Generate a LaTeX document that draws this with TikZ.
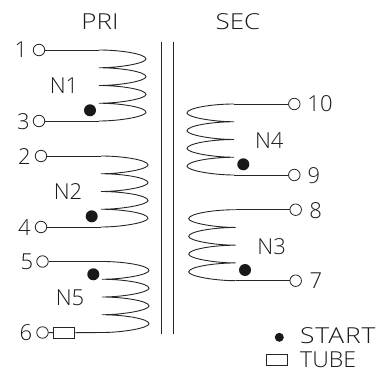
\documentclass[tikz,border=0pt]{standalone}
\usepackage{fontspec}
\setmainfont{Open Sans Light}
\newcommand{\stretchfont}[1]{\addfontfeature{FakeStretch=#1}}
\tikzset{
  x=1pt,y=-1pt,
  wire/.style={draw=black!85,line width=0.9pt},
  term/.style={circle,draw=black!85,line width=0.8pt,fill=white,inner sep=0pt,minimum size=11.5pt},
  startdot/.style={circle,fill=black!90,inner sep=0pt,minimum size=12pt},
  lbl/.style={text=black!90,font=\fontsize{22}{23}\selectfont,inner sep=0pt},
  tubebox/.style={rectangle,draw=black!85,line width=0.8pt,fill=white,inner sep=0pt,minimum width=21pt,minimum height=10.5pt},
  coil/.pic={
    \coordinate (-start) at (0,0);
    \coordinate (-end) at (0,71);
    \path[wire] (0,0)
      .. controls (22,0) and (47,4) .. (47,9) .. controls (47,13) and (22,17.75) .. (0,17.75)
      .. controls (22,17.75) and (47,21.75) .. (47,26.75) .. controls (47,30.75) and (22,35.5) .. (0,35.5)
      .. controls (22,35.5) and (47,39.5) .. (47,44.5) .. controls (47,48.5) and (22,53.25) .. (0,53.25)
      .. controls (22,53.25) and (47,57.25) .. (47,62.25) .. controls (47,66.25) and (22,71) .. (0,71);
  }
}
\begin{document}
\begin{tikzpicture}
\useasboundingbox (0,0) rectangle (380,371);
% core
\coordinate (c1t) at (161,42); \coordinate (c1b) at (161,334);
\coordinate (c2t) at (173,42); \coordinate (c2b) at (173,334);
\draw[wire] (c1t) -- (c1b);
\draw[wire] (c2t) -- (c2b);
% headings
\node[lbl] (pri) at (100,22) {\stretchfont{1.18}PRI};
\node[lbl] (sec) at (238,22) {\stretchfont{1.18}SEC};
% coils
\pic (n1c) at (99,50) {coil};
\pic (n2c) at (101,156) {coil};
\pic (n5c) at (102,261.5) {coil};
\pic[xscale=-1] (n4c) at (234,104) {coil};
\pic[xscale=-1] (n3c) at (235.7,209.7) {coil};
% terminals
\node[term] (t1) at (39,50) {};
\node[term] (t3) at (39,121) {};
\node[term] (t2) at (41,156) {};
\node[term] (t4) at (41,227) {};
\node[term] (t5) at (42.5,261.5) {};
\node[term] (t6) at (42.5,332.5) {};
\node[term] (t10) at (294.3,104) {};
\node[term] (t9) at (294.3,175) {};
\node[term] (t8) at (295.7,209.7) {};
\node[term] (t7) at (295.7,280.7) {};
\node[tubebox] (tube) at (63.8,332.8) {};
% leads
\draw[wire] (t1) -- (n1c-start);
\draw[wire] (t3) -- (n1c-end);
\draw[wire] (t2) -- (n2c-start);
\draw[wire] (t4) -- (n2c-end);
\draw[wire] (t5) -- (n5c-start);
\draw[wire] (t6) -- (tube);
\draw[wire] (tube) -- (n5c-end);
\draw[wire] (t10) -- (n4c-start);
\draw[wire] (t9) -- (n4c-end);
\draw[wire] (t8) -- (n3c-start);
\draw[wire] (t7) -- (n3c-end);
% start dots
\node[startdot] (d1) at (90,110.3) {};
\node[startdot] (d2) at (91.7,216.3) {};
\node[startdot] (d5) at (93.3,274.3) {};
\node[startdot] (d4) at (243.3,164.3) {};
\node[startdot] (d3) at (245,270) {};
% labels
\node[lbl] (l1) at (21,50) {1};
\node[lbl] (l3) at (23.5,122) {3};
\node[lbl] (l2) at (24.5,157) {2};
\node[lbl] (l4) at (24.5,228) {4};
\node[lbl] (l5) at (27,262) {5};
\node[lbl] (l6) at (26,333) {6};
\node[lbl] (ln1) at (64,86) {N1};
\node[lbl] (ln2) at (68,192) {N2};
\node[lbl] (ln5) at (70,298) {N5};
\node[lbl] (ln4) at (269.3,140.7) {N4};
\node[lbl] (ln3) at (271.7,246.7) {N3};
\node[lbl] (l10) at (320,104) {10};
\node[lbl] (l9) at (314,175.7) {9};
\node[lbl] (l8) at (315.7,210.7) {8};
\node[lbl] (l7) at (316,280.7) {7};
% legend
\node[startdot,minimum size=9pt] (ld) at (279.3,337.3) {};
\node[tubebox] (lt) at (276.7,359.8) {};
\node[lbl,anchor=west] (ls) at (300,335.7) {\addfontfeature{FakeStretch=1.2,LetterSpace=4}START};
\node[lbl,anchor=west] (ltt) at (300,359.5) {\stretchfont{1.05}TUBE};
\end{tikzpicture}
\end{document}
